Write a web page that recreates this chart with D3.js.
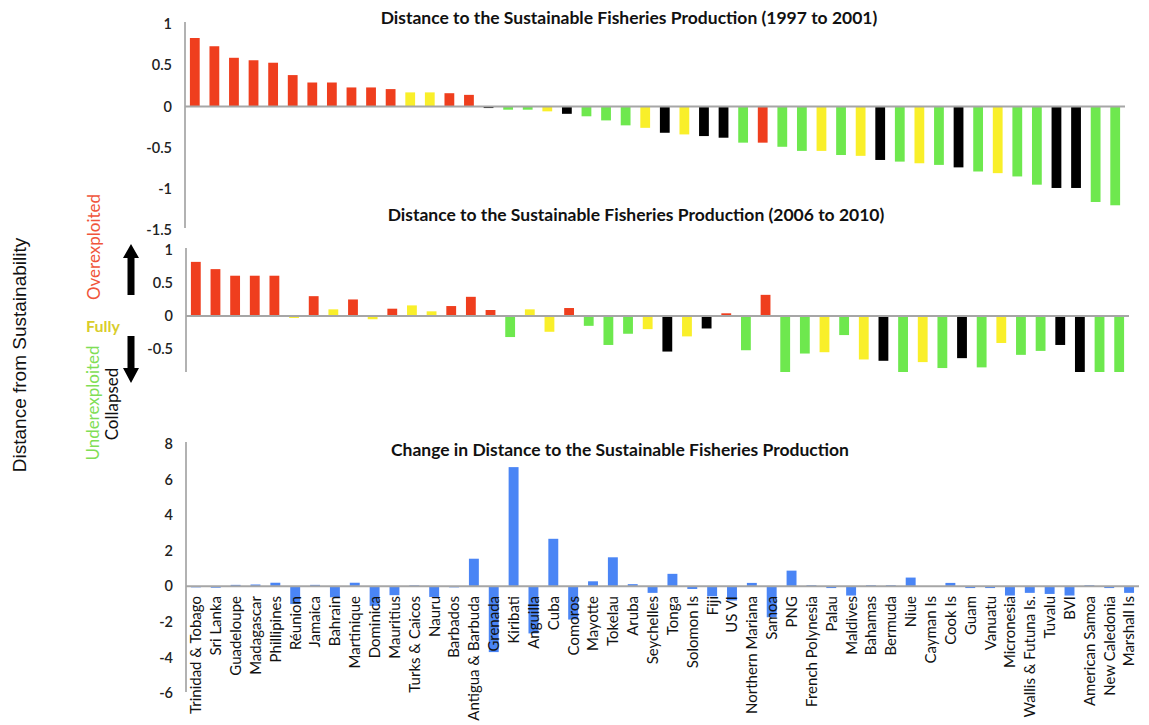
<!DOCTYPE html>
<html>
<head>
<meta charset="utf-8">
<script src="https://cdn.jsdelivr.net/npm/d3@7"></script>
<style>
  body { margin: 0; background: #fff; }
  text { font-family: Lato, "Open Sans", sans-serif; }
</style>
</head>
<body>
<svg id="chart" width="1149" height="725"></svg>
<script>
// ---- data ----
const countries = ["Trinidad & Tobago","Sri Lanka","Guadeloupe","Madagascar","Phillipines","Réunion","Jamaica","Bahrain","Martinique","Dominica","Mauritius","Turks & Caicos","Nauru","Barbados","Antigua & Barbuda","Grenada","Kiribati","Anguilla","Cuba","Comoros","Mayotte","Tokelau","Aruba","Seychelles","Tonga","Solomon Is","Fiji","US VI","Northern Mariana","Samoa","PNG","French Polynesia","Palau","Maldives","Bahamas","Bermuda","Niue","Cayman Is","Cook Is","Guam","Vanuatu","Micronesia","Wallis & Futuna Is.","Tuvalu","BVI","American Samoa","New Caledonia","Marshall Is"];

// distance to sustainable production, 1997-2001
const dist9701 = [0.83,0.73,0.59,0.56,0.53,0.38,0.29,0.29,0.23,0.23,0.21,0.17,0.17,0.16,0.14,-0.02,-0.04,-0.04,-0.06,-0.09,-0.12,-0.17,-0.23,-0.26,-0.32,-0.34,-0.36,-0.38,-0.44,-0.44,-0.49,-0.54,-0.54,-0.59,-0.60,-0.65,-0.67,-0.69,-0.71,-0.74,-0.79,-0.81,-0.85,-0.95,-0.99,-0.99,-1.16,-1.20];
// O = overexploited, F = fully, U = underexploited, C = collapsed
const status9701 = ["O","O","O","O","O","O","O","O","O","O","O","F","F","O","O","C","U","U","F","C","U","U","U","F","C","F","C","C","U","O","U","U","F","U","F","C","U","F","U","C","U","F","U","U","C","C","U","U"];

// distance to sustainable production, 2006-2010
const dist0610 = [0.82,0.71,0.61,0.61,0.61,-0.03,0.30,0.10,0.25,-0.05,0.11,0.16,0.07,0.15,0.29,0.09,-0.32,0.10,-0.24,0.12,-0.15,-0.44,-0.27,-0.20,-0.54,-0.31,-0.19,0.04,-0.52,0.32,-0.93,-0.57,-0.55,-0.29,-0.66,-0.68,-1.00,-0.70,-0.79,-0.64,-0.78,-0.41,-0.59,-0.53,-0.44,-1.04,-1.06,-0.95];
const status0610 = ["O","O","O","O","O","F","O","F","O","F","O","F","F","O","O","O","U","F","F","O","U","U","U","F","C","F","C","O","U","O","U","U","F","U","F","C","U","F","U","C","U","F","U","U","C","C","U","U"];

// change in distance between the two periods
const change = [-0.06,-0.08,0.08,0.10,0.20,-1.00,0.08,-0.62,0.20,-1.10,-0.50,0.05,-0.60,-0.06,1.55,-3.70,6.70,-2.65,2.67,-1.87,0.28,1.63,0.12,-0.37,0.70,-0.15,-0.56,-0.80,0.19,-1.74,0.88,0.06,-0.10,-0.52,0.06,0.06,0.49,0.01,0.19,-0.10,-0.10,-0.52,-0.37,-0.43,-0.52,0.06,-0.10,-0.37];

const ticks9701 = [1, 0.5, 0, -0.5, -1, -1.5];
const ticks0610 = [1, 0.5, 0, -0.5];
const ticksChange = [8, 6, 4, 2, 0, -2, -4, -6];

const statusNames = ["O", "F", "U", "C"];
const statusColors = ["#ef3e1e", "#f9ef2a", "#6ee84e", "#000000"];
const changeColor = "#4a85f5";

// ---- drawing ----
const svg = d3.select("#chart");
const color = d3.scaleOrdinal().domain(statusNames).range(statusColors);
const fmt = d => String(d);

const defs = svg.append("defs");

function panel(cfg) {
  const g = svg.append("g");
  const x = d3.scaleBand().domain(countries).range([cfg.x0, cfg.x1]).paddingInner(0.5).paddingOuter(0.25);
  const y = d3.scaleLinear().domain(cfg.domain).range([cfg.yBottom, cfg.yTop]);

  const clipId = "clip" + cfg.id;
  defs.append("clipPath").attr("id", clipId)
    .append("rect").attr("x", cfg.x0).attr("y", cfg.yTop - 5)
    .attr("width", cfg.x1 - cfg.x0 + 20).attr("height", cfg.yBottom - cfg.yTop + 5);

  // bars
  g.append("g").attr("clip-path", `url(#${clipId})`)
    .selectAll("rect").data(cfg.values).join("rect")
    .attr("x", (d, i) => x(countries[i]))
    .attr("width", x.bandwidth())
    .attr("y", d => y(Math.max(0, d)))
    .attr("height", d => Math.abs(y(d) - y(0)))
    .attr("fill", (d, i) => cfg.fill(i));

  // vertical axis
  const axis = d3.axisLeft(y).tickValues(cfg.ticks).tickFormat(fmt).tickSize(0).tickPadding(13);
  const ag = g.append("g").attr("transform", `translate(${cfg.x0},0)`).call(axis);
  ag.select(".domain").attr("stroke", "#999").attr("stroke-width", 1.5)
    .attr("d", `M0,${cfg.axisTop}V${cfg.axisBottom}`);
  ag.selectAll(".tick text").attr("font-size", 14.5).attr("font-weight", 600).attr("fill", "#222");

  // zero line
  g.append("line").attr("x1", cfg.x0).attr("x2", cfg.x1)
    .attr("y1", y(0)).attr("y2", y(0))
    .attr("stroke", "#a6a6a6").attr("stroke-width", 2);

  // title
  g.append("text").attr("x", cfg.titleX).attr("y", cfg.titleY)
    .attr("text-anchor", "middle").attr("font-size", 17.5).attr("font-weight", 700)
    .attr("fill", "#111").text(cfg.title);

  return { x, y, g };
}

panel({
  id: 1, values: dist9701, fill: i => color(status9701[i]),
  x0: 185, x1: 1125, yTop: 24, yBottom: 230, domain: [-1.5, 1],
  axisTop: 22, axisBottom: 228, ticks: ticks9701,
  title: "Distance to the Sustainable Fisheries Production (1997 to 2001)", titleX: 629, titleY: 24
});

panel({
  id: 2, values: dist0610, fill: i => color(status0610[i]),
  x0: 186, x1: 1129, yTop: 250, yBottom: 372, domain: [-0.85, 1],
  axisTop: 248, axisBottom: 372, ticks: ticks0610,
  title: "Distance to the Sustainable Fisheries Production (2006 to 2010)", titleX: 636, titleY: 221
});

const p3 = panel({
  id: 3, values: change, fill: () => changeColor,
  x0: 186, x1: 1139, yTop: 444, yBottom: 693, domain: [-6, 8],
  axisTop: 442, axisBottom: 692, ticks: ticksChange,
  title: "Change in Distance to the Sustainable Fisheries Production", titleX: 620, titleY: 456
});

// country labels, drawn over the bars of the bottom panel
svg.append("g").selectAll("text").data(countries).join("text")
  .attr("transform", d => `translate(${p3.x(d) + p3.x.bandwidth() / 2},596) rotate(-90)`)
  .attr("text-anchor", "end").attr("dy", "0.36em")
  .attr("font-size", 15).attr("fill", "#111")
  .text(d => d);

// shared y-axis title
svg.append("text")
  .attr("transform", "translate(26,355) rotate(-90)")
  .attr("text-anchor", "middle")
  .style("font-family", "'Liberation Sans', Arial, sans-serif")
  .attr("font-size", 19).attr("fill", "#111")
  .text("Distance from Sustainability");

// status key
const key = svg.append("g").attr("font-size", 17);
key.append("text").attr("transform", "translate(100,247) rotate(-90)")
  .attr("text-anchor", "middle").attr("fill", "#f0553b").text("Overexploited");
key.append("text").attr("x", 86).attr("y", 332)
  .attr("font-weight", 700).attr("fill", "#d9cd2c").attr("font-size", 16).text("Fully");
key.append("text").attr("transform", "translate(99,403) rotate(-90)")
  .attr("text-anchor", "middle").attr("fill", "#7fde56").text("Underexploited");
key.append("text").attr("transform", "translate(118,404) rotate(-90)")
  .attr("text-anchor", "middle").attr("fill", "#111").text("Collapsed");

// arrows
const arrow = d3.path();
// up arrow
arrow.moveTo(131, 244); arrow.lineTo(139, 258); arrow.lineTo(134.5, 258); arrow.lineTo(134.5, 295);
arrow.lineTo(127.5, 295); arrow.lineTo(127.5, 258); arrow.lineTo(123, 258); arrow.closePath();
// down arrow
arrow.moveTo(127.5, 336); arrow.lineTo(134.5, 336); arrow.lineTo(134.5, 368); arrow.lineTo(139, 368);
arrow.lineTo(131, 383); arrow.lineTo(123, 368); arrow.lineTo(127.5, 368); arrow.closePath();
svg.append("path").attr("d", arrow.toString()).attr("fill", "#000");
</script>
</body>
</html>
